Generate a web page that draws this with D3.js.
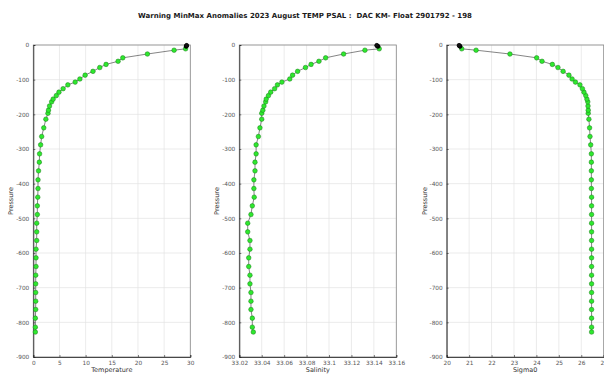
<!DOCTYPE html>
<html><head><meta charset="utf-8">
<script src="https://cdn.jsdelivr.net/npm/d3@7"></script>
<style>body{margin:0;background:#fff;} svg{display:block;font-family:"DejaVu Sans",sans-serif;}</style>
</head><body>
<script>
const titleText = "Warning MinMax Anomalies 2023 August TEMP PSAL :  DAC KM- Float 2901792 - 198";
const pressure = [-1,-2,-3,-4,-11,-15,-26,-37,-47,-56,-65,-76,-87,-98,-107,-115,-126,-136,-146,-156,-164,-176,-188,-197,-214,-239,-264,-288,-314,-338,-363,-389,-414,-439,-464,-489,-514,-539,-564,-589,-614,-639,-664,-689,-714,-739,-763,-788,-814,-828];
const flagBlack = [1,1,1,1,0,0,0,0,0,0,0,0,0,0,0,0,0,0,0,0,0,0,0,0,0,0,0,0,0,0,0,0,0,0,0,0,0,0,0,0,0,0,0,0,0,0,0,0,0,0];
const temperature = [29.3,29.3,29.25,29.2,29.1,26.9,21.8,17.1,16.2,13.9,12.7,11.4,9.9,8.9,8.0,6.6,5.7,4.9,4.4,3.8,3.5,3.1,2.9,2.8,2.4,2.0,1.6,1.4,1.2,1.15,1.0,0.9,0.9,0.85,0.77,0.77,0.65,0.65,0.65,0.52,0.52,0.52,0.46,0.46,0.46,0.46,0.46,0.39,0.39,0.39];
const salinity = [33.1425,33.1428,33.1432,33.1438,33.1448,33.132,33.113,33.097,33.091,33.084,33.079,33.072,33.0675,33.065,33.058,33.054,33.0515,33.048,33.046,33.044,33.0435,33.042,33.041,33.040,33.040,33.0384,33.037,33.035,33.035,33.034,33.034,33.033,33.033,33.0333,33.0316,33.0304,33.0275,33.0275,33.0295,33.0295,33.0284,33.0284,33.0295,33.0295,33.0304,33.0304,33.0304,33.0316,33.0316,33.0325];
const sigma0 = [20.55,20.56,20.58,20.6,20.67,21.31,22.82,24.01,24.25,24.71,24.96,25.19,25.45,25.59,25.74,25.94,26.05,26.12,26.20,26.25,26.29,26.30,26.31,26.31,26.34,26.37,26.39,26.42,26.45,26.45,26.45,26.45,26.45,26.46,26.46,26.46,26.46,26.46,26.46,26.46,26.46,26.46,26.46,26.46,26.46,26.46,26.46,26.46,26.46,26.46];
const yTicks = [0,-100,-200,-300,-400,-500,-600,-700,-800,-900];
const tempTicks = [0,5,10,15,20,25,30];
const salTicks = [33.02,33.04,33.06,33.08,33.1,33.12,33.14,33.16];
const sigTicks = [20,21,22,23,24,25,26,27];
const xLabels = ["Temperature","Salinity","Sigma0"];
const yLabel = "Pressure";

const W=604,H=374;
const svg=d3.select("body").append("svg").attr("width",W).attr("height",H);
svg.append("text").attr("x",305).attr("y",18).attr("text-anchor","middle").style("white-space","pre")
  .attr("font-size","7px").attr("font-weight","bold").attr("fill","#1a1a1a").text(titleText);

const panels=[
  {left:33.3, vals:temperature, dom:[0,30], ticks:tempTicks, label:xLabels[0]},
  {left:239.3, vals:salinity, dom:[33.02,33.16], ticks:salTicks, label:xLabels[1]},
  {left:446.7, vals:sigma0, dom:[20,27], ticks:sigTicks, label:xLabels[2]}
];
const topY=45, bottomY=357, pw=157;
const y=d3.scaleLinear().domain([0,-900]).range([topY,bottomY]);
const fmt=d=>String(+d.toFixed(2));

panels.forEach(p=>{
  const x=d3.scaleLinear().domain(p.dom).range([p.left,p.left+pw]);
  const g=svg.append("g");
  g.selectAll(".gx").data(p.ticks).enter().append("line")
    .attr("x1",d=>x(d)).attr("x2",d=>x(d)).attr("y1",topY).attr("y2",bottomY)
    .attr("stroke","#e3e3e3").attr("stroke-width",0.7);
  g.selectAll(".gy").data(yTicks).enter().append("line")
    .attr("x1",p.left).attr("x2",p.left+pw).attr("y1",d=>y(d)).attr("y2",d=>y(d))
    .attr("stroke","#e3e3e3").attr("stroke-width",0.7);
  g.append("rect").attr("x",p.left).attr("y",topY).attr("width",pw).attr("height",bottomY-topY)
    .attr("fill","none").attr("stroke","#8a8a8a").attr("stroke-width",0.8);
  const xa=d3.axisBottom(x).tickValues(p.ticks).tickSize(-2).tickPadding(4).tickFormat(fmt);
  const ya=d3.axisLeft(y).tickValues(yTicks).tickSize(-2).tickPadding(4).tickFormat(d=>String(d));
  const gx=g.append("g").attr("transform",`translate(0,${bottomY})`).call(xa);
  const gy=g.append("g").attr("transform",`translate(${p.left},0)`).call(ya);
  [gx,gy].forEach(a=>{
    a.select(".domain").attr("stroke","#262626").attr("stroke-width",0.8);
    a.selectAll(".tick line").attr("stroke","#262626").attr("stroke-width",0.6);
    a.selectAll("text").attr("font-size","5.8px").attr("fill","#555").attr("font-family","DejaVu Sans, sans-serif");
  });
  g.append("text").attr("x",p.left+pw/2).attr("y",372).attr("text-anchor","middle")
    .attr("font-size","6.5px").attr("fill","#333").text(p.label);
  g.append("text").attr("transform",`translate(${p.left-20},${(topY+bottomY)/2}) rotate(-90)`)
    .attr("text-anchor","middle").attr("font-size","6.5px").attr("fill","#333").text(yLabel);
  const pts=pressure.map((pr,i)=>({p:pr,v:p.vals[i],b:flagBlack[i]}));
  g.append("path").datum(pts).attr("fill","none").attr("stroke","#333").attr("stroke-width",0.6)
    .attr("d",d3.line().x(d=>x(d.v)).y(d=>y(d.p)));
  g.selectAll(".pt").data(pts.slice().reverse()).enter().append("circle")
    .attr("cx",d=>x(d.v)).attr("cy",d=>y(d.p)).attr("r",d=>d.b?2:2.3)
    .attr("fill",d=>d.b?"#111":"#2ee82e").attr("stroke",d=>d.b?"#000":"#1a7a1a").attr("stroke-width",0.5);
});
</script>
</body></html>
